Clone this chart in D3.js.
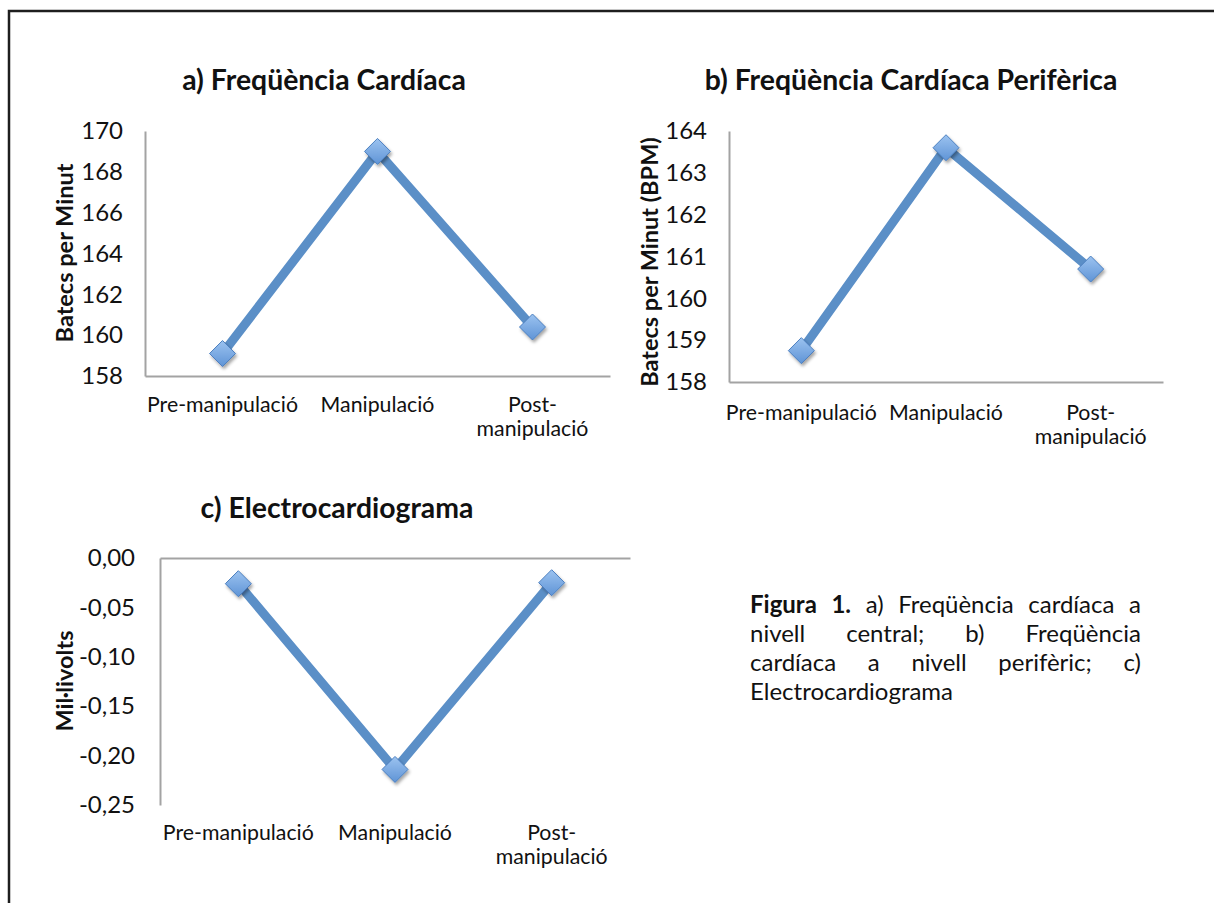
<!DOCTYPE html>
<html>
<head>
<meta charset="utf-8">
<script src="https://cdn.jsdelivr.net/npm/d3@7"></script>
<style>
  body { margin: 0; background: #fff; }
  svg text { font-family: Lato, "Open Sans", sans-serif; fill: #111; }
</style>
</head>
<body>
<svg id="fig" width="1214" height="903"></svg>
<script>
// categories shared by the three panels
var categories = ["Pre-manipulació", "Manipulació", "Post-manipulació"];
var categoryLines = [["Pre-manipulació"], ["Manipulació"], ["Post-", "manipulació"]];

// a) central heart rate
var heartRate = [159.1, 169.0, 160.4];
var heartTicks = [158, 160, 162, 164, 166, 168, 170];

// b) peripheral heart rate
var periphRate = [158.75, 163.6, 160.7];
var periphTicks = [158, 159, 160, 161, 162, 163, 164];

// c) electrocardiogram
var ecgValues = [-0.026, -0.214, -0.025];
var ecgTicks = [-0.25, -0.20, -0.15, -0.10, -0.05, 0];

// caption, one array per line (last line is not justified)
var captionLines = [
  ["Figura", "1.", "a)", "Freqüència", "cardíaca", "a"],
  ["nivell", "central;", "b)", "Freqüència"],
  ["cardíaca", "a", "nivell", "perifèric;", "c)"],
  ["Electrocardiograma"]
];
var boldWords = 2; // "Figura 1." is bold

var W = 1214, H = 903;
var axisColor = "#a3a3a3";
var lineColor = "#5b8fc7";
var font = "Lato, 'Open Sans', sans-serif";

var svg = d3.select("#fig");

// outer frame, only the left and top edges are visible
svg.append("rect")
  .attr("x", 9).attr("y", 11)
  .attr("width", W + 40).attr("height", H + 40)
  .attr("fill", "none")
  .attr("stroke", "#1e1e1e")
  .attr("stroke-width", 2.5);

var defs = svg.append("defs");
var grad = defs.append("linearGradient").attr("id", "mk")
  .attr("x1", 0).attr("y1", 0).attr("x2", 0).attr("y2", 1);
grad.append("stop").attr("offset", "0%").attr("stop-color", "#9cc3f0");
grad.append("stop").attr("offset", "100%").attr("stop-color", "#5f94d6");

var shadow = defs.append("filter").attr("id", "shadow")
  .attr("x", "-50%").attr("y", "-50%").attr("width", "200%").attr("height", "200%");
shadow.append("feDropShadow")
  .attr("dx", 1.5).attr("dy", 2.5).attr("stdDeviation", 1.6)
  .attr("flood-color", "#000").attr("flood-opacity", 0.35);

// diamond marker (upright so the gradient runs top to bottom)
var diamond = {
  draw: function (ctx, size) {
    var r = Math.sqrt(size) / 2;
    ctx.moveTo(0, -r); ctx.lineTo(r, 0); ctx.lineTo(0, r); ctx.lineTo(-r, 0); ctx.closePath();
  }
};

var ca = d3.formatLocale({ decimal: ",", thousands: ".", grouping: [3], currency: ["", " €"], minus: "-" });

var panels = [
  {
    values: heartRate, ticks: heartTicks, fmt: d3.format("d"),
    left: 145, right: 610, top: 131, bottom: 376, pad: 22, labelGap: 29,
    title: "a) Freqüència Cardíaca", titleX: 324, titleY: 80,
    yTitle: "Batecs per Minut", yTitleX: 65, yTitleY: 253
  },
  {
    values: periphRate, ticks: periphTicks, fmt: d3.format("d"),
    left: 729, right: 1163, top: 131, bottom: 382, pad: 22, labelGap: 31,
    title: "b) Freqüència Cardíaca Perifèrica", titleX: 911, titleY: 80,
    yTitle: "Batecs per Minut (BPM)", yTitleX: 650, yTitleY: 262
  },
  {
    values: ecgValues, ticks: ecgTicks, fmt: ca.format(".2f"),
    left: 160, right: 630, top: 558, bottom: 805, pad: 25, labelGap: 28,
    title: "c) Electrocardiograma", titleX: 337, titleY: 508,
    yTitle: "Mil·livolts", yTitleX: 65, yTitleY: 681
  }
];

panels.forEach(drawPanel);

function drawPanel(p) {
  var g = svg.append("g");
  var x = d3.scaleBand().domain(categories).range([p.left, p.right]);
  var y = d3.scaleLinear().domain(d3.extent(p.ticks)).range([p.bottom, p.top]);
  // category axis crosses at 0 when 0 is inside the range
  var cross = Math.max(y.domain()[0], Math.min(0, y.domain()[1]));

  var ya = g.append("g")
    .attr("transform", "translate(" + p.left + ",0)")
    .call(d3.axisLeft(y).tickValues(p.ticks).tickSize(0).tickPadding(p.pad).tickFormat(p.fmt));
  ya.attr("font-family", font).attr("font-size", 24);
  ya.select(".domain").attr("stroke", axisColor).attr("stroke-width", 2);
  ya.selectAll("text").attr("fill", "#111");

  var xa = g.append("g")
    .attr("transform", "translate(0," + y(cross) + ")")
    .call(d3.axisBottom(x).tickSize(0).tickFormat(""));
  xa.select(".domain").attr("stroke", axisColor).attr("stroke-width", 2);

  // category labels always sit under the plot
  g.selectAll(".cat")
    .data(categories)
    .enter().append("text")
    .attr("class", "cat")
    .attr("text-anchor", "middle")
    .attr("font-size", 21.3)
    .attr("y", p.bottom + p.labelGap)
    .each(function (d, i) {
      var t = d3.select(this);
      categoryLines[i].forEach(function (line, k) {
        t.append("tspan")
          .attr("x", x(d) + x.bandwidth() / 2)
          .attr("dy", k === 0 ? "0.35em" : 24)
          .text(line);
      });
    });

  var pts = categories.map(function (c, i) { return { c: c, v: p.values[i] }; });
  var line = d3.line()
    .x(function (d) { return x(d.c) + x.bandwidth() / 2; })
    .y(function (d) { return y(d.v); });

  g.append("path")
    .datum(pts)
    .attr("d", line)
    .attr("fill", "none")
    .attr("stroke", lineColor)
    .attr("stroke-width", 9)
    .attr("stroke-linejoin", "round");

  g.selectAll(".mk")
    .data(pts)
    .enter().append("path")
    .attr("class", "mk")
    .attr("transform", function (d) {
      return "translate(" + (x(d.c) + x.bandwidth() / 2) + "," + y(d.v) + ")";
    })
    .attr("d", d3.symbol().type(diamond).size(26 * 26))
    .attr("fill", "url(#mk)")
    .attr("stroke", "#4b7fbf")
    .attr("stroke-width", 1)
    .attr("filter", "url(#shadow)");

  g.append("text")
    .attr("x", p.titleX).attr("y", p.titleY)
    .attr("dy", "0.35em")
    .attr("text-anchor", "middle")
    .attr("font-size", 28.4)
    .attr("font-weight", "bold")
    .text(p.title);

  g.append("text")
    .attr("transform", "translate(" + p.yTitleX + "," + p.yTitleY + ") rotate(-90)")
    .attr("dy", "0.35em")
    .attr("text-anchor", "middle")
    .attr("font-size", 23.5)
    .attr("font-weight", "bold")
    .text(p.yTitle);
}

// justified caption
var capLeft = 750, capRight = 1141, capTop = 605, capStep = 29;
var cap = svg.append("g").attr("font-size", 24);
var wordIndex = 0;
captionLines.forEach(function (words, li) {
  var yy = capTop + li * capStep;
  var nodes = words.map(function (w) {
    var t = cap.append("text")
      .attr("y", yy)
      .attr("dy", "0.35em")
      .attr("font-weight", wordIndex < boldWords ? "bold" : "normal")
      .text(w);
    wordIndex++;
    return t;
  });
  var widths = nodes.map(function (t) { return t.node().getComputedTextLength(); });
  var total = d3.sum(widths);
  var last = li === captionLines.length - 1;
  var gap = (last || words.length < 2) ? 7 : (capRight - capLeft - total) / (words.length - 1);
  var cx = capLeft;
  nodes.forEach(function (t, k) {
    t.attr("x", cx);
    cx += widths[k] + gap;
  });
});
</script>
</body>
</html>
